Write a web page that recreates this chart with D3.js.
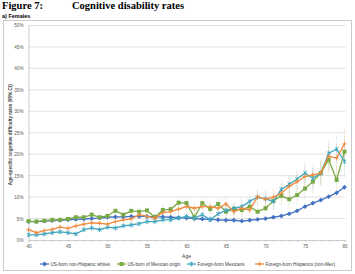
<!DOCTYPE html>
<html>
<head>
<meta charset="utf-8">
<script src="https://cdn.jsdelivr.net/npm/d3@7"></script>
<style>
  body { margin: 0; background: #fff; }
  text { font-family: "Liberation Sans", Arial, sans-serif; }
</style>
</head>
<body>
<svg width="355" height="274"></svg>
<script>
var ages = d3.range(40, 81);
var seriesNames = ["US-born non-Hispanic whites", "US-born of Mexican origin",
                   "Foreign-born Mexicans", "Foreign-born Hispanics (non-Mex)"];
var whites = [4.3, 4.3, 4.4, 4.5, 4.6, 4.7, 4.8, 4.9, 5.0, 5.1, 5.3, 5.4, 5.4, 5.5, 5.5, 5.5, 5.4, 5.4, 5.3, 5.2,
              5.1, 5.0, 4.9, 4.8, 4.7, 4.6, 4.6, 4.4, 4.6, 4.8, 5.0, 5.3, 5.6, 6.1, 6.8, 7.8, 8.6, 9.3, 10.1, 11.0, 12.3];
var usMex = [4.4, 4.3, 4.5, 4.7, 4.7, 4.9, 5.3, 5.3, 5.9, 5.3, 5.6, 6.8, 5.9, 6.8, 6.6, 6.9, 5.3, 7.0, 7.2, 8.7,
             8.6, 5.3, 8.6, 7.2, 8.4, 6.6, 7.2, 7.0, 7.8, 6.6, 7.4, 9.1, 10.3, 9.5, 10.5, 12.0, 13.6, 15.6, 18.7, 14.0, 20.6];
var fbMex = [1.2, 1.2, 1.4, 1.7, 1.9, 1.7, 1.4, 2.4, 2.8, 2.4, 3.0, 2.8, 3.3, 3.5, 3.8, 4.3, 4.3, 4.7, 4.7, 5.1,
             5.5, 5.1, 5.9, 4.7, 6.1, 6.9, 7.4, 7.8, 9.0, 10.0, 9.6, 9.0, 11.8, 13.0, 14.2, 15.6, 14.4, 15.6, 20.2, 21.2, 18.3];
var fbHisp = [2.4, 1.7, 2.2, 2.5, 3.0, 2.7, 3.3, 3.7, 4.0, 3.9, 3.7, 4.3, 4.7, 4.9, 5.9, 5.5, 5.1, 6.4, 6.6, 7.2,
              7.8, 7.4, 7.8, 7.8, 7.4, 8.4, 6.6, 7.4, 7.0, 10.1, 9.5, 10.0, 10.9, 12.5, 13.6, 14.8, 15.2, 15.6, 19.5, 19.1, 22.4];
// 95% CI half-widths
var whitesCi = [0.1, 0.1, 0.1, 0.1, 0.1, 0.1, 0.1, 0.1, 0.1, 0.1, 0.1, 0.1, 0.1, 0.1, 0.1, 0.1, 0.1, 0.1, 0.1, 0.1,
                0.1, 0.1, 0.1, 0.1, 0.1, 0.1, 0.1, 0.1, 0.1, 0.2, 0.2, 0.2, 0.2, 0.2, 0.2, 0.3, 0.3, 0.3, 0.3, 0.4, 0.4];
var usMexCi = [0.4, 0.4, 0.4, 0.5, 0.5, 0.5, 0.5, 0.6, 0.6, 0.6, 0.7, 0.7, 0.7, 0.8, 0.8, 0.9, 0.9, 1.0, 1.0, 1.1,
               1.1, 1.1, 1.2, 1.2, 1.3, 1.3, 1.4, 1.5, 1.6, 1.6, 1.7, 1.9, 2.0, 2.1, 2.3, 2.5, 2.7, 2.9, 3.2, 3.3, 3.6];
var fbMexCi = [0.3, 0.3, 0.3, 0.4, 0.4, 0.4, 0.4, 0.5, 0.5, 0.5, 0.6, 0.6, 0.6, 0.7, 0.7, 0.8, 0.8, 0.9, 0.9, 1.0,
               1.0, 1.1, 1.1, 1.2, 1.3, 1.4, 1.5, 1.6, 1.7, 1.8, 1.9, 2.0, 2.1, 2.2, 2.3, 2.5, 2.6, 2.8, 3.2, 3.4, 3.6];
var fbHispCi = [0.5, 0.5, 0.5, 0.5, 0.6, 0.6, 0.6, 0.7, 0.7, 0.7, 0.8, 0.8, 0.9, 0.9, 1.0, 1.0, 1.0, 1.1, 1.1, 1.2,
                1.3, 1.3, 1.4, 1.4, 1.5, 1.6, 1.6, 1.7, 1.8, 1.9, 2.0, 2.1, 2.2, 2.3, 2.4, 2.6, 2.7, 2.9, 3.2, 3.3, 3.6];
var yTicks = [0, 5, 10, 15, 20, 25, 30, 35, 40, 45, 50];
var xTicks = [40, 45, 50, 55, 60, 65, 70, 75, 80];

var colors = ["#4472c4", "#7aaa45", "#3fa6be", "#f08a3c"];
var values = [whites, usMex, fbMex, fbHisp];
var cis = [whitesCi, usMexCi, fbMexCi, fbHispCi];

var svg = d3.select("svg");

var x = d3.scaleLinear().domain([40, 80]).range([28.5, 344.5]);
var y = d3.scaleLinear().domain([0, 50]).range([240, 25.5]);

// title
svg.append("text").attr("x", 2).attr("y", 8.5)
  .style("font-family", "'Liberation Serif', 'Times New Roman', serif")
  .style("font-weight", "bold").style("font-size", "10.5px")
  .text("Figure 7:");
svg.append("text").attr("x", 72).attr("y", 8.5)
  .style("font-family", "'Liberation Serif', 'Times New Roman', serif")
  .style("font-weight", "bold").style("font-size", "10.5px")
  .text("Cognitive disability rates");
svg.append("text").attr("x", 2).attr("y", 17.5)
  .style("font-weight", "bold").style("font-size", "5.5px")
  .text("a) Females");

// chart frame
svg.append("rect").attr("x", 3.5).attr("y", 20.5).attr("width", 348).attr("height", 250)
  .attr("fill", "none").attr("stroke", "#bfbfbf").attr("stroke-width", 0.8);

// grid
svg.append("g").selectAll("line").data(yTicks.slice(1)).join("line")
  .attr("x1", x(40)).attr("x2", x(80) + 1)
  .attr("y1", function(d) { return y(d); }).attr("y2", function(d) { return y(d); })
  .attr("stroke", "#d9d9d9").attr("stroke-width", 0.8);

// y axis
var yAxis = svg.append("g").attr("transform", "translate(" + x(40) + ",0)")
  .call(d3.axisLeft(y).tickValues(yTicks).tickSize(0).tickPadding(5)
    .tickFormat(function(d) { return d + "%"; }));
yAxis.select(".domain").attr("stroke", "#bfbfbf").attr("stroke-width", 0.8);
yAxis.selectAll("text").style("font-size", "4.6px").attr("fill", "#595959")
  .style("font-family", "'Liberation Sans', Arial, sans-serif");

// x axis
var xAxis = svg.append("g").attr("transform", "translate(0," + y(0) + ")")
  .call(d3.axisBottom(x).tickValues(ages).tickSize(2).tickPadding(2.5)
    .tickFormat(function(d) { return xTicks.indexOf(d) >= 0 ? d : ""; }));
xAxis.select(".domain").attr("stroke", "#bfbfbf").attr("stroke-width", 0.8);
xAxis.selectAll("line").attr("stroke", "#bfbfbf").attr("stroke-width", 0.6);
xAxis.selectAll("text").style("font-size", "4.6px").attr("fill", "#595959")
  .style("font-family", "'Liberation Sans', Arial, sans-serif");

svg.append("text").attr("x", (x(40) + x(80)) / 2).attr("y", 257.5)
  .attr("text-anchor", "middle").style("font-size", "5px").attr("fill", "#404040")
  .text("Age");
svg.append("text")
  .attr("transform", "translate(11.5," + (y(25) + 2) + ") rotate(-90)")
  .attr("text-anchor", "middle").style("font-size", "4.6px").style("font-weight", "bold")
  .attr("fill", "#404040")
  .text("Age-specific cognitive difficulty rates (95% CI)");

// markers
function marker(sel, k, cx, cy) {
  var c = colors[k];
  var g = sel.append("g").attr("transform", "translate(" + cx + "," + cy + ")");
  if (k === 0) {
    g.append("path").attr("d", "M0,-2.4L2.4,0L0,2.4L-2.4,0Z").attr("fill", c);
  } else if (k === 1) {
    g.append("rect").attr("x", -2).attr("y", -2).attr("width", 4).attr("height", 4).attr("fill", c);
  } else if (k === 2) {
    g.append("path").attr("d", "M-1.8,-1.8L1.8,1.8M-1.8,1.8L1.8,-1.8M0,-2.3L0,2.3")
      .attr("stroke", c).attr("stroke-width", 0.9);
  } else {
    g.append("path").attr("d", "M-2.2,0L2.2,0M0,-2.2L0,2.2")
      .attr("stroke", c).attr("stroke-width", 0.9);
  }
}

var line = d3.line().x(function(d) { return x(d[0]); }).y(function(d) { return y(d[1]); });

values.forEach(function(vals, k) {
  var pts = ages.map(function(a, i) { return [a, vals[i], cis[k][i]]; });
  var g = svg.append("g");
  g.selectAll("line.ci").data(pts).join("line").attr("class", "ci")
    .attr("x1", function(d) { return x(d[0]); }).attr("x2", function(d) { return x(d[0]); })
    .attr("y1", function(d) { return y(d[1] - d[2]); }).attr("y2", function(d) { return y(d[1] + d[2]); })
    .attr("stroke", colors[k]).attr("stroke-width", 0.6).attr("stroke-dasharray", "0.8,0.8")
    .attr("opacity", 0.5);
});

values.forEach(function(vals, k) {
  var pts = ages.map(function(a, i) { return [a, vals[i]]; });
  var g = svg.append("g");
  g.append("path").datum(pts).attr("d", line)
    .attr("fill", "none").attr("stroke", colors[k]).attr("stroke-width", 1.3);
  pts.forEach(function(d) { marker(g, k, x(d[0]), y(d[1])); });
});

// legend
var legX = [40, 117, 187, 255];
seriesNames.forEach(function(name, k) {
  var g = svg.append("g").attr("transform", "translate(" + legX[k] + ",264)");
  g.append("line").attr("x1", 0).attr("x2", 9).attr("stroke", colors[k]).attr("stroke-width", 1.3);
  marker(g, k, 4.5, 0);
  g.append("text").attr("x", 10.5).attr("y", 1.6).style("font-size", "4.6px").attr("fill", "#404040")
    .text(name);
});
</script>
</body>
</html>
